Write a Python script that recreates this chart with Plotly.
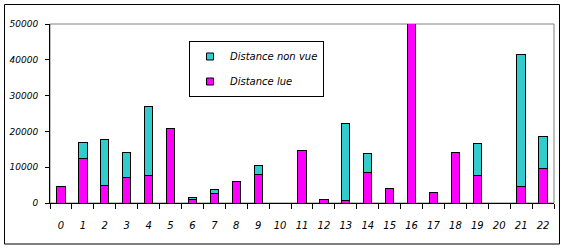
import plotly.graph_objects as go

categories = [str(i) for i in range(23)]
distance_lue = [4700, 12300, 5000, 7100, 7800, 20700, 1000, 2700, 6100, 8100, 0, 14600,
                1000, 800, 8600, 4100, 50500, 2800, 14000, 7800, 0, 4700, 9500]
distance_non_vue = [0, 4700, 12600, 6900, 19100, 0, 600, 1200, 0, 2300, 0, 0,
                    0, 21300, 5100, 0, 0, 0, 0, 8700, 0, 36800, 9000]
y_ticks = [0, 10000, 20000, 30000, 40000, 50000]

COL_LUE = "#FF00FF"
COL_NONVUE = "#33CCCC"
FONT = "DejaVu Sans"

fig = go.Figure()
fig.add_trace(go.Bar(x=categories, y=distance_lue, name="Distance lue",
                     marker=dict(color=COL_LUE, line=dict(color="black", width=1)),
                     showlegend=False))
fig.add_trace(go.Bar(x=categories, y=distance_non_vue, name="Distance non vue",
                     marker=dict(color=COL_NONVUE, line=dict(color="black", width=1)),
                     showlegend=False))
# legend entries
fig.add_trace(go.Scatter(x=[None], y=[None], mode="markers", name="Distance non vue",
                         legendgroup="a",
                         marker=dict(symbol="square", size=7, color=COL_NONVUE,
                                     line=dict(color="black", width=1))))
fig.add_trace(go.Scatter(x=[None], y=[None], mode="markers", name="Distance lue",
                         legendgroup="b",
                         marker=dict(symbol="square", size=7, color=COL_LUE,
                                     line=dict(color="black", width=1))))

W, H = 565, 248
L, R, T, B = 50, 11, 24, 45
pw, ph = W - L - R, H - T - B

def px(x):
    return (x - L) / pw

def py(y):
    return (H - B - y) / ph

fig.update_layout(
    width=W, height=H,
    margin=dict(l=L, r=R, t=T, b=B, pad=0),
    paper_bgcolor="white", plot_bgcolor="white",
    barmode="stack", bargap=0.62,
    font=dict(family=FONT, size=10, color="black", style="italic"),
    showlegend=True,
    legend=dict(x=px(189), y=py(41), xanchor="left", yanchor="top",
                bgcolor="white", bordercolor="black", borderwidth=1,
                font=dict(family=FONT, size=10, style="italic"),
                traceorder="grouped", tracegroupgap=6, itemwidth=30),
    xaxis=dict(type="category", range=[-0.5, 22.5], showline=True, linecolor="black",
               linewidth=1, ticks="outside", tickson="boundaries", ticklen=5,
               tickcolor="black", showgrid=False, zeroline=False, tickangle=0,
               tickfont=dict(family=FONT, size=10, style="italic"),
               ticklabelstandoff=13),
    yaxis=dict(range=[0, 50000], tickvals=y_ticks, ticktext=[str(v) for v in y_ticks],
               showline=True, linecolor="black", linewidth=1, ticks="outside",
               ticklen=4, tickcolor="black", showgrid=False, zeroline=False,
               tickfont=dict(family=FONT, size=9, style="italic"),
               ticklabelstandoff=5),
    shapes=[
        dict(type="rect", xref="paper", yref="paper", x0=0, x1=1, y0=0, y1=1,
             line=dict(color="#808080", width=1), layer="below"),
        dict(type="rect", xref="paper", yref="paper", x0=px(4.5), x1=px(559.5),
             y0=py(4.5), y1=py(244), line=dict(color="black", width=1), layer="below"),
    ],
)

fig.write_html("out.html")
